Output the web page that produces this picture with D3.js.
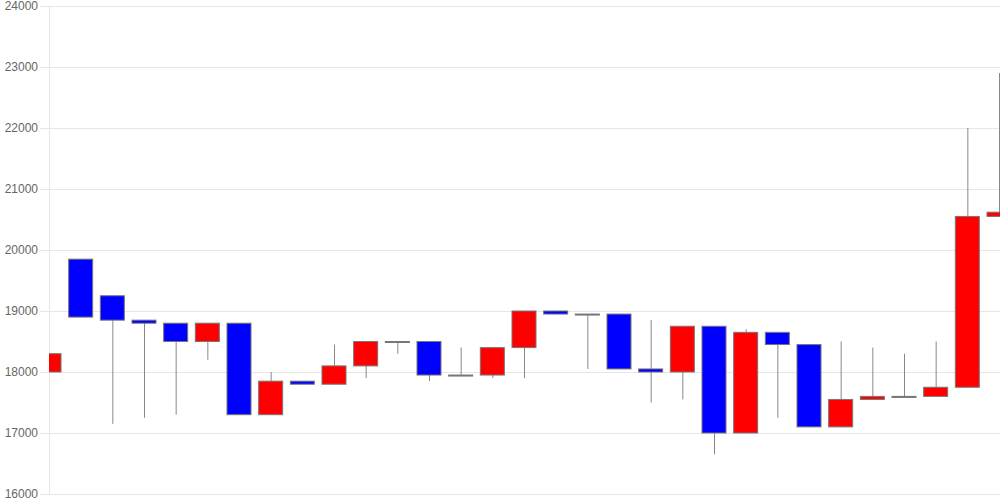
<!DOCTYPE html>
<html><head><meta charset="utf-8">
<script src="https://cdn.jsdelivr.net/npm/d3@7"></script>
<style>body{margin:0;background:#fff;}svg{display:block;font-family:"Liberation Sans",Arial,sans-serif;}</style>
</head><body>
<svg id="c" width="1000" height="500"></svg>
<script>
const opens  = [18000,19850,19250,18850,18800,18500,18800,17300,17850,17800,18100,18500,18500,17950,17950,18400,19000,18950,18950,18050,18000,18750,17000,18650,18450,17100,17550,17600,17600,17750,20550];
const closes = [18300,18900,18850,18800,18500,18800,17300,17850,17800,18100,18500,18500,17950,17950,18400,19000,18950,18950,18050,18000,18750,17000,18650,18450,17100,17550,17600,17600,17750,20550,20620];
const highs  = [18300,19850,19250,18850,18800,18800,18800,18000,17850,18450,18500,18500,18500,18400,18400,19000,19000,18950,18950,18850,18750,18750,18700,18650,18450,18500,18400,18300,18500,22000,22900];
const lows   = [18000,18900,17150,17250,17300,18200,17300,17300,17800,17800,17900,18300,17850,17950,17900,17900,18950,18050,18050,17500,17550,16650,17000,17250,17100,17100,17550,17600,17600,17750,20550];
const yTicks = [16000,17000,18000,19000,20000,21000,22000,23000,24000];

const svg = d3.select("#c");
const L = 49, R = 1000, T = 6, B = 494;
const y = d3.scaleLinear().domain([16000,24000]).range([B,T]);
const x = d3.scalePoint().domain(d3.range(opens.length)).range([L,R-1]);
const bw = 24;

svg.append("defs").append("clipPath").attr("id","clip")
  .append("rect").attr("x",L).attr("y",0).attr("width",R-L).attr("height",500);

// grid
const yAxis = d3.axisLeft(y).tickValues(yTicks).tickSize(-(R-L)).tickSizeOuter(0).tickPadding(3).tickFormat(d3.format("d"));
const ga = svg.append("g").attr("transform",`translate(${L},0)`).call(yAxis);
ga.select(".domain").attr("stroke","#e6e6e6");
ga.selectAll(".tick line").attr("stroke","#e6e6e6").attr("x1",-9).attr("x2",R-L);
ga.selectAll(".tick text").attr("fill","#666").attr("font-size","12px").attr("x",-11)
  .attr("font-family","'Liberation Sans',Arial,sans-serif");

const g = svg.append("g").attr("clip-path","url(#clip)");
const idx = d3.range(opens.length);

g.selectAll("line.wick").data(idx).enter().append("line")
  .attr("class","wick")
  .attr("x1",i=>x(i)+0.5).attr("x2",i=>x(i)+0.5)
  .attr("y1",i=>y(highs[i])).attr("y2",i=>y(lows[i]))
  .attr("stroke","#888").attr("stroke-width",1);

g.selectAll("rect.body").data(idx).enter().append("rect")
  .attr("class","body")
  .attr("x",i=>x(i)-bw/2)
  .attr("width",bw)
  .attr("y",i=>y(Math.max(opens[i],closes[i])))
  .attr("height",i=>Math.max(1,Math.abs(y(opens[i])-y(closes[i]))))
  .attr("fill",i=>closes[i]>opens[i]?"#ff0000":(closes[i]<opens[i]?"#0000ff":"#555"))
  .attr("stroke","#777")
  .attr("stroke-width",1);
</script>
</body></html>
